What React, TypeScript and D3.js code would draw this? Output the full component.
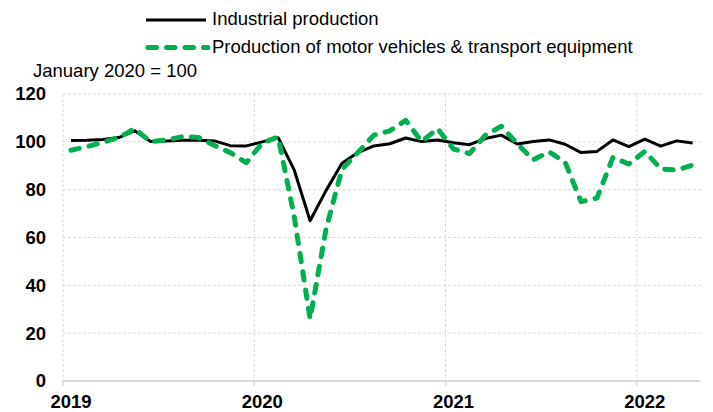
import React from "react";
import * as d3 from "d3";

const months: Date[] = d3.timeMonths(new Date(2019, 0, 1), new Date(2022, 4, 1));

const industrial: number[] = [
  100.6, 100.7, 101, 101.8, 104.6, 100.1, 100.4, 100.7, 100.7, 100.4, 98.4, 98.3,
  100, 101.7, 88.3, 67, 79.6, 91, 95.5, 98.3, 99.2, 101.6, 100.1, 100.8,
  99.6, 98.8, 101.4, 102.8, 99.1, 100.1, 100.8, 99, 95.5, 96, 100.8, 98,
  101.1, 98.2, 100.4, 99.5,
];

const motorVehicles: number[] = [
  96.5, 98, 99.8, 101.8, 105.5, 100, 100.8, 102.2, 101.8, 98.5, 95.5, 91.3,
  99.5, 102, 69, 26, 63.5, 88.5, 95.5, 102.8, 104.6, 109, 100.1, 105.5,
  97, 95.1, 102.8, 106.5, 99.2, 92.5, 95.8, 91.5, 75, 76.5, 93.5, 90.7,
  96, 88.7, 88.2, 90.3,
];

const yTicks: number[] = [0, 20, 40, 60, 80, 100, 120];
const yearLabels: string[] = ["2019", "2020", "2021", "2022"];
const seriesNames: string[] = [
  "Industrial production",
  "Production of motor vehicles & transport equipment",
];
const unitLabel = "January 2020 = 100";

const FONT = "'Liberation Sans', Arial, sans-serif";

export default function App() {
  const left = 63;
  const right = 700.6;
  const top = 94;
  const bottom = 381;

  const keys = months.map((m) => d3.timeFormat("%Y-%m")(m));
  const x = d3.scaleBand<string>().domain(keys).range([left, right]).paddingInner(0).paddingOuter(0);
  const bw = x.bandwidth();
  const cx = (i: number) => (x(keys[i]) as number) + bw / 2;
  const y = d3.scaleLinear().domain([0, 120]).range([bottom, top]);

  const line = d3
    .line<number>()
    .x((_, i) => cx(i))
    .y((d) => y(d));

  const yearIdx = yearLabels.map((yl) => keys.indexOf(yl + "-01"));

  return (
    <svg
      width={713}
      height={412}
      style={{ position: "absolute", left: 0, top: 0, background: "#fff" }}
      fontFamily={FONT}
    >
      {/* horizontal grid */}
      {yTicks
        .filter((t) => t > 0)
        .map((t) => (
          <line
            key={"h" + t}
            x1={left}
            x2={right}
            y1={y(t)}
            y2={y(t)}
            stroke="#d9d9d9"
            strokeWidth={1}
            strokeDasharray="3 2"
          />
        ))}
      {/* vertical grid at year starts */}
      {yearIdx.map((i) => (
        <line
          key={"v" + i}
          x1={x(keys[i]) as number}
          x2={x(keys[i]) as number}
          y1={top}
          y2={bottom}
          stroke="#d9d9d9"
          strokeWidth={1}
          strokeDasharray="3 2"
        />
      ))}
      {/* x axis */}
      <line x1={left} x2={right} y1={bottom} y2={bottom} stroke="#d9d9d9" strokeWidth={2} />
      {yearIdx.map((i) => (
        <line
          key={"t" + i}
          x1={x(keys[i]) as number}
          x2={x(keys[i]) as number}
          y1={bottom}
          y2={bottom + 5}
          stroke="#d9d9d9"
          strokeWidth={1.5}
        />
      ))}
      {yearIdx.map((i, k) => (
        <text
          key={"xl" + i}
          x={cx(i)}
          y={408}
          textAnchor="middle"
          fontSize={18.5}
          fontWeight={600}
          fill="#000"
        >
          {yearLabels[k]}
        </text>
      ))}
      {yTicks.map((t) => (
        <text
          key={"yl" + t}
          x={46}
          y={y(t)}
          dy="0.35em"
          textAnchor="end"
          fontSize={18.5}
          fontWeight={600}
          fill="#000"
        >
          {t}
        </text>
      ))}
      {/* series */}
      <path d={line(industrial) || ""} fill="none" stroke="#000" strokeWidth={3} strokeLinejoin="round" />
      <path
        d={line(motorVehicles) || ""}
        fill="none"
        stroke="#00b050"
        strokeWidth={5}
        strokeDasharray="8.5 10"
        strokeLinecap="round"
        strokeLinejoin="round"
      />
      {/* legend */}
      <line x1={146} x2={206} y1={20} y2={20} stroke="#000" strokeWidth={3} />
      <text x={212} y={25} fontSize={18.5} fill="#000">
        {seriesNames[0]}
      </text>
      <line
        x1={148}
        x2={208}
        y1={47.5}
        y2={47.5}
        stroke="#00b050"
        strokeWidth={5}
        strokeDasharray="8.5 10"
        strokeLinecap="round"
      />
      <text x={212} y={52.5} fontSize={18.5} fill="#000">
        {seriesNames[1]}
      </text>
      <text x={33} y={76.5} fontSize={18.5} fill="#000">
        {unitLabel}
      </text>
    </svg>
  );
}
